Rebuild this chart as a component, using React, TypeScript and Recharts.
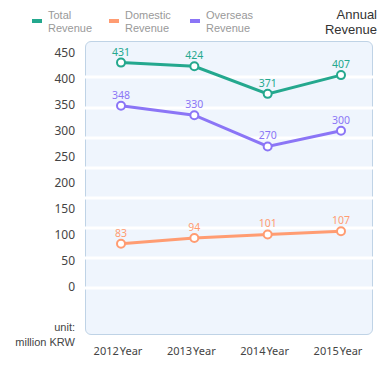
import { LineChart, Line, XAxis, YAxis, CartesianGrid, LabelList } from 'recharts';

const years = ['2012', '2013', '2014', '2015'];
const totalRevenue = [431, 424, 371, 407];
const domesticRevenue = [83, 94, 101, 107];
const overseasRevenue = [348, 330, 270, 300];
const yTicks = [0, 50, 100, 150, 200, 250, 300, 350, 400, 450];

const TEAL = '#24a88e';
const ORANGE = '#ff9c72';
const PURPLE = '#8b75f6';
const FONT = '"Noto Sans", "Liberation Sans", sans-serif';
const LABEL_FONT = '"Liberation Sans", Arial, sans-serif';

const data = years.map((y, i) => ({
  year: y,
  total: totalRevenue[i],
  domestic: domesticRevenue[i],
  overseas: overseasRevenue[i],
}));

function XTick({ x, y, payload }: any) {
  return (
    <text x={x - 3} y={y} dy="0.71em" textAnchor="middle" fontSize={11} fill="#444" fontFamily={FONT}>
      {payload.value}
      <tspan dx={1}>Year</tspan>
    </text>
  );
}

function Dot({ cx, cy, stroke }: any) {
  return <circle cx={cx} cy={cy} r={4} fill="#fff" stroke={stroke} strokeWidth={2} />;
}

const legendItems = [
  { color: TEAL, name: 'Total', x: 32 },
  { color: ORANGE, name: 'Domestic', x: 109 },
  { color: PURPLE, name: 'Overseas', x: 190 },
];

export default function App() {
  return (
    <div
      style={{
        position: 'relative', width: 391, height: 371, margin: -8, fontFamily: LABEL_FONT,
        boxSizing: 'border-box', border: '2px solid #e2e2e2',
      }}
    >
      <div style={{ position: 'absolute', left: -2, top: -2, width: 391, height: 372 }}>
        {/* plot panel */}
        <div
          style={{
            position: 'absolute', left: 85, top: 41, width: 288, height: 294,
            boxSizing: 'border-box', border: '1px solid #bfd3e6', borderRadius: 6, background: '#eff5fd',
          }}
        />
        {/* legend */}
        {legendItems.map((it) => (
          <div key={it.name} style={{ position: 'absolute', left: it.x, top: 9 }}>
            <div style={{ position: 'absolute', left: 0, top: 10, width: 10, height: 4, background: it.color }} />
            <div style={{ position: 'absolute', left: 16, top: 0, fontSize: 11, lineHeight: '13px', color: '#999', whiteSpace: 'nowrap' }}>
              {it.name}
              <br />
              Revenue
            </div>
          </div>
        ))}
        <div
          style={{
            position: 'absolute', right: 14, top: 7, fontSize: 13, lineHeight: '15px',
            color: '#333', textAlign: 'right',
          }}
        >
          Annual
          <br />
          Revenue
        </div>
        <div
          style={{
            position: 'absolute', right: 316, top: 320, fontSize: 11, lineHeight: '15px',
            color: '#444', textAlign: 'right', whiteSpace: 'nowrap',
          }}
        >
          unit:
          <br />
          million KRW
        </div>
        <div style={{ position: 'absolute', left: 0, top: 0 }}>
          <LineChart width={391} height={372} data={data} margin={{ top: 41, right: 18, bottom: 7, left: 25 }}>
            <CartesianGrid
              vertical={false}
              horizontalPoints={[77, 108, 138, 168, 198, 228, 258, 288]}
              stroke="#ffffff"
              strokeWidth={3}
            />
            <XAxis
              dataKey="year"
              axisLine={false}
              tickLine={false}
              tickMargin={6}
              height={30}
              padding={{ left: 36, right: 32 }}
              tick={<XTick />}
            />
            <YAxis
              width={60}
              domain={[-92.2, 472.5]}
              ticks={yTicks}
              axisLine={false}
              tickLine={false}
              tickMargin={4}
              tick={{ fontSize: 12, fill: '#444', fontFamily: FONT }}
              interval={0}
            />
            <Line dataKey="total" stroke={TEAL} strokeWidth={3} dot={<Dot />} activeDot={false} isAnimationActive={false}>
              <LabelList dataKey="total" position="top" offset={7} fontSize={10.5} fill={TEAL} fontFamily={FONT} />
            </Line>
            <Line dataKey="overseas" stroke={PURPLE} strokeWidth={3} dot={<Dot />} activeDot={false} isAnimationActive={false}>
              <LabelList dataKey="overseas" position="top" offset={7} fontSize={10.5} fill={PURPLE} fontFamily={FONT} />
            </Line>
            <Line dataKey="domestic" stroke={ORANGE} strokeWidth={3} dot={<Dot />} activeDot={false} isAnimationActive={false}>
              <LabelList dataKey="domestic" position="top" offset={7} fontSize={10.5} fill={ORANGE} fontFamily={FONT} />
            </Line>
          </LineChart>
        </div>
      </div>
    </div>
  );
}
